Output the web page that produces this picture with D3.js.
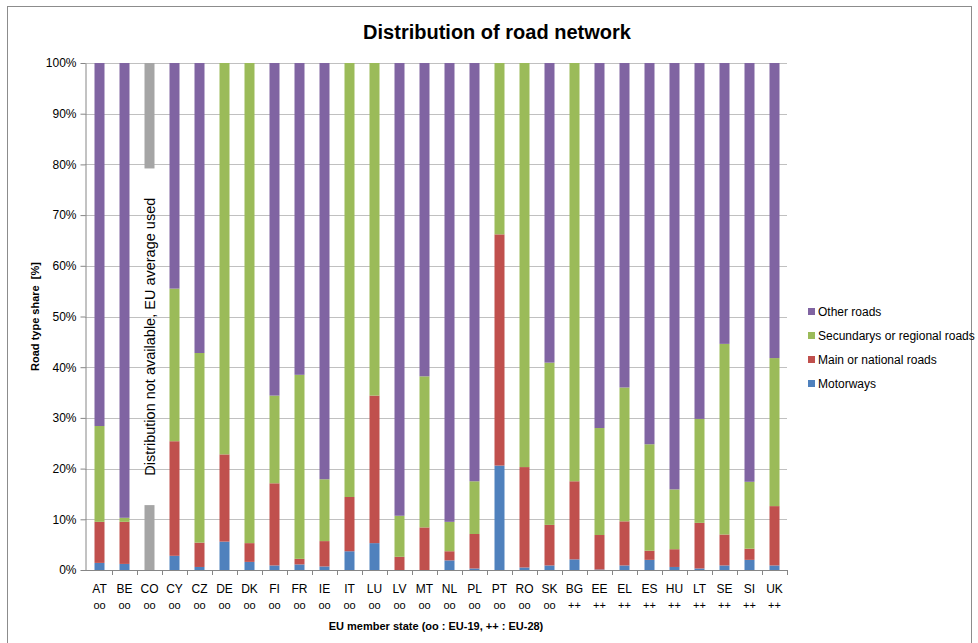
<!DOCTYPE html>
<html>
<head>
<meta charset="utf-8">
<script src="https://cdn.jsdelivr.net/npm/d3@7"></script>
<style>
  body { margin: 0; background: #fff; }
  svg { font-family: "Liberation Sans", Arial, sans-serif; }
</style>
</head>
<body>
<svg id="chart" width="978" height="643"></svg>
<script>
// data (shares in %)
const countries = ['AT','BE','CO','CY','CZ','DE','DK','FI','FR','IE','IT','LU','LV','MT','NL','PL','PT','RO','SK',
                   'BG','EE','EL','ES','HU','LT','SE','SI','UK']
const groups = ['oo','oo','oo','oo','oo','oo','oo','oo','oo','oo','oo','oo','oo','oo','oo','oo','oo','oo','oo',
                '++','++','++','++','++','++','++','++','++']
const motorways = [1.4,1.2,0,2.8,0.6,5.6,1.6,0.9,1.1,0.7,3.7,5.3,0,0,1.9,0.3,20.6,0.5,0.9,
                   2.1,0.1,0.9,2.0,0.6,0.3,0.9,2.0,0.9]
const mainRoads = [8.1,8.3,0,22.6,4.8,17.2,3.7,16.2,1.1,5.0,10.7,29.1,2.6,8.4,1.8,6.8,45.6,19.8,8.0,
                   15.4,6.8,8.7,1.8,3.5,9.0,6.1,2.2,11.7]
const secondaryRoads = [18.9,0.8,0,30.1,37.4,77.2,94.7,17.3,36.3,12.2,85.6,65.6,8.1,29.8,5.8,10.4,33.8,79.7,32.0,
                        82.5,21.1,26.4,21.0,11.8,20.5,37.6,13.2,29.2]
const otherRoads = [71.6,89.7,0,44.5,57.2,0,0,65.6,61.5,82.1,0,0,89.3,61.8,90.5,82.5,0,0,59.1,
                    0,72.0,64.0,75.2,84.1,70.2,55.4,82.6,58.2]
// CO: no distribution, only the grey ends of the bar
const naCountry = 'CO'
const naBottom = 12.8
const naTop = 20.8
const naNote = 'Distribution not available, EU average used'

const seriesKeys = ['motorways','main','secondary','other']
const seriesNames = {motorways:'Motorways', main:'Main or national roads', secondary:'Secundarys or regional roads', other:'Other roads'}
const colors = {motorways:'#4F81BD', main:'#C0504D', secondary:'#9BBB59', other:'#8064A2'}
const yTicks = [0,10,20,30,40,50,60,70,80,90,100]

const rows = countries.map(function (c, i) {
    return {country: c, group: groups[i], motorways: motorways[i], main: mainRoads[i],
            secondary: secondaryRoads[i], other: otherRoads[i]}
})

const svg = d3.select('#chart')

// outer frame
svg.append('rect')
    .attr('x', 7.5).attr('y', 6.5)
    .attr('width', 964).attr('height', 650)
    .attr('fill', 'none')
    .attr('stroke', '#8c8c8c')
    .attr('stroke-width', 1)

const plot = {left: 85, right: 787, top: 63, bottom: 570}

const x = d3.scaleBand()
    .domain(countries)
    .range([87, 787])
    .paddingInner(0.6)
    .paddingOuter(0.3)

const y = d3.scaleLinear()
    .domain([0, 100])
    .range([plot.bottom, plot.top])

// gridlines
svg.append('g')
    .selectAll('line')
    .data(yTicks.filter(function (d) { return d > 0 }))
    .join('line')
    .attr('x1', plot.left).attr('x2', plot.right)
    .attr('y1', function (d) { return Math.round(y(d)) + 0.5 })
    .attr('y2', function (d) { return Math.round(y(d)) + 0.5 })
    .attr('stroke', '#c0c0c0')
    .attr('stroke-width', 1)

// stacked bars
const stacked = d3.stack().keys(seriesKeys)(rows)
svg.append('g')
    .selectAll('g')
    .data(stacked)
    .join('g')
    .attr('fill', function (d) { return colors[d.key] })
    .selectAll('rect')
    .data(function (d) { return d })
    .join('rect')
    .attr('x', function (d) { return x(d.data.country) })
    .attr('width', x.bandwidth())
    .attr('y', function (d) { return y(d[1]) })
    .attr('height', function (d) { return y(d[0]) - y(d[1]) })

// CO grey parts
const naParts = [[0, naBottom], [100 - naTop, 100]]
svg.append('g')
    .selectAll('rect')
    .data(naParts)
    .join('rect')
    .attr('x', x(naCountry))
    .attr('width', x.bandwidth())
    .attr('y', function (d) { return y(d[1]) })
    .attr('height', function (d) { return y(d[0]) - y(d[1]) })
    .attr('fill', '#A5A5A5')

svg.append('text')
    .attr('transform', 'translate(' + (x(naCountry) + x.bandwidth() / 2) + ',' + y(46) + ') rotate(-90)')
    .attr('text-anchor', 'middle')
    .attr('dominant-baseline', 'central')
    .attr('font-size', 14.5)
    .attr('fill', '#000')
    .text(naNote)

// y axis
const yAxis = svg.append('g')
    .attr('transform', 'translate(' + (plot.left + 0.5) + ',0)')
    .call(d3.axisLeft(y).tickValues(yTicks).tickFormat(function (d) { return d + '%' })
        .tickSize(5).tickSizeOuter(0).tickPadding(4))
yAxis.select('.domain').attr('stroke', '#868686')
yAxis.selectAll('.tick line').attr('stroke', '#868686')
yAxis.selectAll('.tick text').attr('font-size', 12).attr('fill', '#000')
    .attr('font-family', '"Liberation Sans", Arial, sans-serif')

// x axis
const xAxis = svg.append('g')
svg.append('line')
    .attr('x1', plot.left).attr('x2', plot.right)
    .attr('y1', plot.bottom + 0.5).attr('y2', plot.bottom + 0.5)
    .attr('stroke', '#868686')
const step = x.step()
xAxis.selectAll('line')
    .data(countries)
    .join('line')
    .attr('x1', function (d) { return Math.round(x(d) + x.bandwidth() / 2 + step / 2) + 0.5 })
    .attr('x2', function (d) { return Math.round(x(d) + x.bandwidth() / 2 + step / 2) + 0.5 })
    .attr('y1', plot.bottom).attr('y2', plot.bottom + 5)
    .attr('stroke', '#868686')
xAxis.selectAll('text.c')
    .data(rows)
    .join('text')
    .attr('class', 'c')
    .attr('x', function (d) { return x(d.country) + x.bandwidth() / 2 })
    .attr('y', 593)
    .attr('text-anchor', 'middle')
    .attr('font-size', 12)
    .text(function (d) { return d.country })
xAxis.selectAll('text.g')
    .data(rows)
    .join('text')
    .attr('class', 'g')
    .attr('x', function (d) { return x(d.country) + x.bandwidth() / 2 })
    .attr('y', 609)
    .attr('text-anchor', 'middle')
    .attr('font-size', 11)
    .text(function (d) { return d.group })

// titles
svg.append('text')
    .attr('x', 497).attr('y', 39)
    .attr('text-anchor', 'middle')
    .attr('font-size', 20)
    .attr('font-weight', 'bold')
    .text('Distribution of road network')

svg.append('text')
    .attr('x', 436).attr('y', 630)
    .attr('text-anchor', 'middle')
    .attr('font-size', 11)
    .attr('font-weight', 'bold')
    .text('EU member state (oo : EU-19, ++ : EU-28)')

svg.append('text')
    .attr('transform', 'translate(39,' + y(50) + ') rotate(-90)')
    .attr('text-anchor', 'middle')
    .attr('font-size', 11)
    .attr('font-weight', 'bold')
    .attr('xml:space', 'preserve')
    .text('Road type share  [%]')

// legend
const legendKeys = seriesKeys.slice().reverse()
const legend = svg.append('g')
    .selectAll('g')
    .data(legendKeys)
    .join('g')
    .attr('transform', function (d, i) { return 'translate(808,' + (312 + i * 24) + ')' })
legend.append('rect')
    .attr('x', 0).attr('y', -4)
    .attr('width', 7).attr('height', 7)
    .attr('fill', function (d) { return colors[d] })
legend.append('text')
    .attr('x', 10).attr('y', 0)
    .attr('dominant-baseline', 'central')
    .attr('font-size', 12)
    .text(function (d) { return seriesNames[d] })
</script>
</body>
</html>
